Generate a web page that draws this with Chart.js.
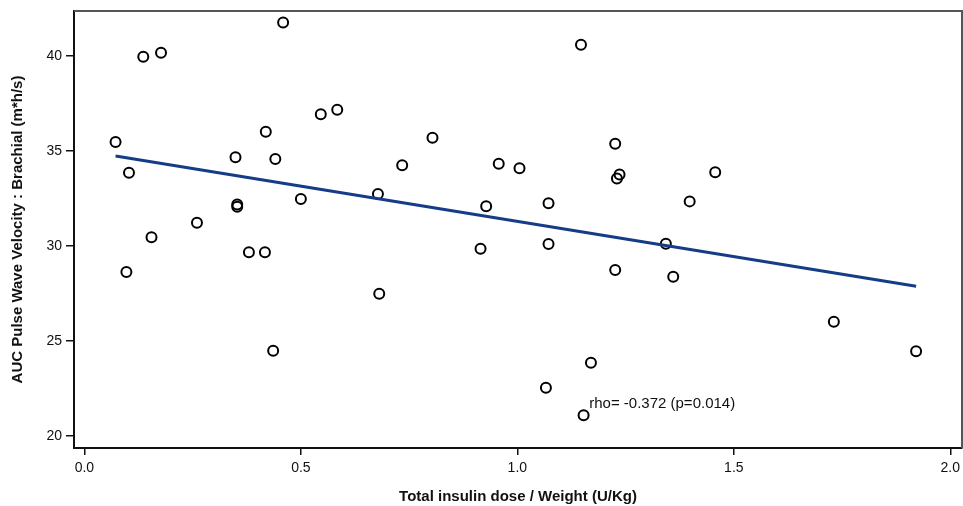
<!DOCTYPE html>
<html>
<head>
<meta charset="utf-8">
<script src="https://cdn.jsdelivr.net/npm/chart.js@4.4.1/dist/chart.umd.min.js"></script>
<style>
    body { margin: 0; background: #fff; }
    canvas { display: block; }
</style>
</head>
<body>
<canvas id="scatterChart" width="963" height="506"></canvas>
<script>
// insulin dose per kg (x) vs brachial PWV AUC (y)
const doseValues = [0.072, 0.103, 0.097, 0.136, 0.177, 0.155, 0.260, 0.349, 0.353, 0.353,
    0.380, 0.417, 0.419, 0.441, 0.436, 0.459, 0.500, 0.546, 0.584, 0.678,
    0.681, 0.734, 0.804, 0.915, 0.928, 0.957, 1.005, 1.066, 1.072, 1.072,
    1.147, 1.153, 1.170, 1.226, 1.226, 1.230, 1.236, 1.343, 1.360, 1.398,
    1.457, 1.731, 1.921];
const pwvValues = [35.47, 33.86, 28.63, 39.96, 40.17, 30.46, 31.23, 34.67, 32.19, 32.07,
    29.67, 29.67, 36.02, 34.58, 24.49, 41.77, 32.47, 36.93, 37.17, 32.74,
    27.49, 34.25, 35.70, 29.86, 32.09, 34.33, 34.09, 22.54, 32.25, 30.11,
    40.59, 21.09, 23.86, 35.38, 28.74, 33.56, 33.77, 30.12, 28.38, 32.35,
    33.88, 26.02, 24.46];

// fitted line endpoints
const fitX = [0.072, 1.921];
const fitY = [34.74, 27.88];

const xTicks = [0.0, 0.5, 1.0, 1.5, 2.0];
const yTicks = [20, 25, 30, 35, 40];

const rhoLabel = 'rho= -0.372 (p=0.014)';
const rhoAt = { x: 1.166, y: 21.47 };

const frameLines = {
    id: 'frameLines',
    afterDraw(chart) {
        const { ctx, chartArea: a } = chart;
        ctx.save();
        ctx.strokeStyle = '#555';
        ctx.lineWidth = 2;
        ctx.beginPath();
        ctx.moveTo(a.left, a.top);
        ctx.lineTo(a.right, a.top);
        ctx.lineTo(a.right, a.bottom);
        ctx.stroke();
        ctx.restore();
    }
};

const rhoText = {
    id: 'rhoText',
    afterDatasetsDraw(chart) {
        const { ctx, scales } = chart;
        ctx.save();
        ctx.font = '15px Arial, "Liberation Sans", sans-serif';
        ctx.fillStyle = '#111';
        ctx.textAlign = 'left';
        ctx.textBaseline = 'alphabetic';
        ctx.fillText(rhoLabel, scales.x.getPixelForValue(rhoAt.x), scales.y.getPixelForValue(rhoAt.y));
        ctx.restore();
    }
};

function renderChart() {
    const ctx = document.getElementById('scatterChart').getContext('2d');

    new Chart(ctx, {
        type: 'scatter',
        data: {
            datasets: [{
                label: 'Subjects',
                data: doseValues.map((x, i) => ({ x: x, y: pwvValues[i] })),
                pointStyle: 'circle',
                pointRadius: 5,
                borderWidth: 2,
                borderColor: '#000',
                backgroundColor: 'rgba(0,0,0,0)',
                order: 1
            }, {
                label: 'Fit',
                type: 'line',
                data: fitX.map((x, i) => ({ x: x, y: fitY[i] })),
                showLine: true,
                pointRadius: 0,
                borderColor: '#153c86',
                borderWidth: 3,
                fill: false,
                order: 0
            }]
        },
        options: {
            responsive: false,
            animation: false,
            layout: {
                autoPadding: false,
                padding: { top: 11, right: 1, left: 0, bottom: 0 }
            },
            plugins: {
                legend: { display: false },
                tooltip: { enabled: false }
            },
            scales: {
                x: {
                    type: 'linear',
                    min: -0.024,
                    max: 2.027,
                    afterBuildTicks: scale => { scale.ticks = xTicks.map(v => ({ value: v })); },
                    afterFit: scale => {
                        scale.height = 58;
                        scale.paddingLeft = 0;
                        scale.paddingRight = 0;
                    },
                    border: { display: true, color: '#111', width: 2 },
                    grid: { display: true, drawOnChartArea: false, drawTicks: true, tickLength: 7, color: '#111', lineWidth: 1.5 },
                    ticks: {
                        padding: 5,
                        color: '#111',
                        font: { family: 'Arial, "Liberation Sans", sans-serif', size: 14 },
                        callback: value => Number(value).toFixed(1)
                    },
                    title: {
                        display: true,
                        text: 'Total insulin dose / Weight (U/Kg)',
                        color: '#111',
                        font: { family: 'Arial, "Liberation Sans", sans-serif', size: 15, weight: 'bold' },
                        padding: { top: 0, bottom: 0 }
                    }
                },
                y: {
                    type: 'linear',
                    min: 19.37,
                    max: 42.37,
                    afterBuildTicks: scale => { scale.ticks = yTicks.map(v => ({ value: v })); },
                    afterFit: scale => {
                        scale.width = 74;
                        scale.paddingTop = 0;
                        scale.paddingBottom = 0;
                    },
                    border: { display: true, color: '#111', width: 2 },
                    grid: { display: true, drawOnChartArea: false, drawTicks: true, tickLength: 8, color: '#111', lineWidth: 1.5 },
                    ticks: {
                        padding: 4,
                        color: '#111',
                        font: { family: 'Arial, "Liberation Sans", sans-serif', size: 14 }
                    },
                    title: {
                        display: true,
                        text: 'AUC Pulse Wave Velocity : Brachial (m*h/s)',
                        color: '#111',
                        font: { family: 'Arial, "Liberation Sans", sans-serif', size: 15, weight: 'bold' },
                        padding: { top: 9, bottom: 0 }
                    }
                }
            }
        },
        plugins: [frameLines, rhoText]
    });
}

window.onload = renderChart;
</script>
</body>
</html>
